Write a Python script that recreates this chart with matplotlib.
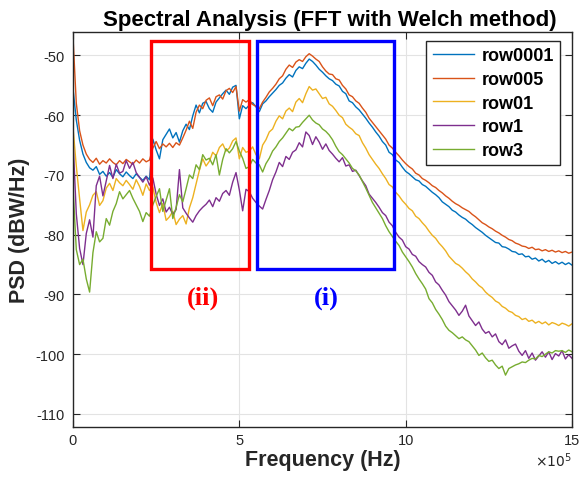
import matplotlib.pyplot as plt
import numpy as np
from matplotlib.patches import Rectangle

# frequency bins, in units of 1e5 Hz (0 .. 15, step 0.1)
freq_1e5 = np.arange(151) / 10.0

row0001 = [
    -55.5, -60.8, -64.2, -66.5, -67.9, -68.8, -69.2, -68.6, -69.9, -69.4,
    -70.2, -69.6, -70.4, -69.1, -69.8, -70.3, -69.5, -70.1, -70.6, -69.8,
    -70.4, -70.9, -70.2, -70.8, -64.0, -65.8, -67.3, -64.1, -63.2, -62.3,
    -63.8, -62.9, -64.5, -62.6, -61.5, -62.4, -60.1, -58.3, -59.6, -58.0,
    -57.7, -58.9, -59.5, -57.8, -57.1, -56.4, -55.8, -56.5, -55.3, -55.0,
    -60.6, -58.4, -58.9, -58.3, -57.9, -58.6, -59.4, -58.1, -57.6, -56.9,
    -56.3, -55.7, -55.0, -54.6, -53.8, -53.2, -53.6, -52.5, -51.9, -52.2,
    -51.3, -50.6, -51.0, -51.6, -52.3, -52.8, -53.4, -53.9, -54.2, -54.8,
    -55.1, -56.0, -56.4, -57.6, -57.9, -58.6, -59.1, -59.8, -60.5, -61.3,
    -62.0, -62.8, -63.5, -64.4, -65.0, -66.2, -66.6, -67.5, -67.9, -68.7,
    -69.4, -69.8, -70.3, -70.8, -71.0, -71.6, -71.9, -72.4, -72.9, -73.3,
    -73.8, -74.5, -74.9, -75.3, -75.9, -76.2, -76.7, -77.1, -77.4, -77.9,
    -78.3, -78.8, -79.2, -79.6, -80.1, -80.5, -80.9, -81.3, -81.4, -82.0,
    -82.1, -82.4, -82.8, -82.9, -83.3, -83.2, -83.7, -83.6, -84.1, -83.9,
    -84.4, -84.1, -84.6, -84.3, -84.8, -84.5, -84.9, -84.6, -85.0, -84.7,
    -85.1,
]

row005 = [
    -46.8, -58.0, -62.6, -65.0, -66.5, -67.4, -67.9, -67.2, -68.2, -67.6,
    -68.0, -67.3, -67.9, -68.3, -67.6, -68.1, -67.4, -67.8, -68.2, -67.5,
    -68.0, -67.3, -67.8, -67.5, -65.5, -64.4, -65.6, -64.8, -65.3, -64.7,
    -65.4, -64.6, -65.0, -63.8, -62.5, -61.0, -62.2, -59.5, -58.3, -58.9,
    -57.5, -57.1, -58.4, -56.9, -56.6, -57.3, -55.9, -55.5, -56.2, -55.2,
    -59.3, -57.4, -57.8, -57.4, -58.2, -58.5, -58.9, -57.8, -57.0, -56.1,
    -55.5, -54.8, -53.9, -53.4, -52.3, -51.6, -52.0, -51.1, -50.7, -51.0,
    -50.2, -49.7, -50.1, -50.6, -51.0, -51.9, -52.6, -53.1, -53.2, -53.9,
    -54.1, -55.0, -55.6, -56.6, -56.9, -57.6, -58.0, -58.8, -59.5, -60.5,
    -61.2, -61.9, -62.6, -63.3, -64.0, -65.0, -65.5, -66.2, -66.8, -67.5,
    -68.1, -68.6, -69.0, -69.7, -70.0, -70.6, -70.9, -71.3, -71.8, -72.1,
    -72.6, -73.0, -73.5, -73.9, -74.4, -74.8, -75.1, -75.5, -75.8, -76.1,
    -76.6, -77.0, -77.5, -78.0, -78.3, -78.7, -79.0, -79.4, -79.7, -80.1,
    -80.4, -80.8, -81.0, -81.4, -81.6, -81.9, -82.0, -82.3, -82.1, -82.5,
    -82.4, -82.7, -82.5, -82.8, -82.6, -82.9, -82.7, -83.0, -82.8, -83.1,
    -82.9,
]

row01 = [
    -62.0, -68.5, -74.0, -79.3, -76.2, -75.0, -73.4, -72.8, -75.1, -74.3,
    -72.2, -71.4, -72.6, -70.6, -71.3, -71.8, -70.9, -71.6, -72.4, -70.8,
    -71.9, -73.4, -71.5, -72.6, -72.0, -74.6, -76.3, -74.8, -77.6, -77.0,
    -76.1, -78.3, -77.4, -76.8, -78.2, -75.5, -73.8, -71.5, -69.2, -67.3,
    -68.5, -67.7, -66.2, -66.8, -65.4, -64.8, -66.0, -65.5, -64.3, -63.8,
    -67.3, -65.4, -66.2, -66.0, -65.3, -66.6, -67.3, -65.0, -64.1, -62.8,
    -62.3, -61.0, -60.1, -60.6, -59.3, -58.8, -59.4, -57.8, -57.2, -57.9,
    -56.4, -55.2, -55.8, -55.6, -56.4, -57.2, -57.0, -58.1, -58.5, -59.2,
    -60.0, -60.4, -61.5, -62.0, -62.4, -63.1, -63.4, -64.6, -65.5, -66.6,
    -67.4, -68.2, -68.9, -69.8, -70.6, -71.6, -72.0, -72.9, -73.5, -74.3,
    -74.9, -75.6, -76.0, -76.9, -77.3, -78.0, -78.6, -79.4, -80.1, -80.6,
    -81.4, -82.0, -82.7, -83.6, -84.2, -84.8, -85.1, -85.6, -86.2, -86.7,
    -87.4, -87.9, -88.5, -88.9, -89.6, -90.1, -90.5, -91.1, -91.4, -92.0,
    -92.3, -92.8, -93.0, -93.5, -93.7, -94.2, -94.0, -94.5, -94.3, -94.8,
    -94.5, -94.9, -94.6, -95.1, -94.7, -94.9, -95.2, -94.8, -95.0, -95.3,
    -94.9,
]

row1 = [
    -63.9, -76.5, -82.3, -85.0, -79.8, -77.5, -80.4, -71.8, -70.2, -73.5,
    -71.0, -68.4, -70.6, -68.2, -69.7, -69.4, -67.6, -68.9, -67.9, -69.6,
    -70.4, -71.2, -70.3, -71.7, -70.5, -73.2, -75.1, -74.0, -76.2, -75.4,
    -76.6, -75.8, -69.1, -75.5, -76.4, -77.2, -77.9, -76.8, -76.0, -75.4,
    -74.9, -74.2, -75.3, -73.8, -74.4, -73.1, -72.6, -73.4, -71.2, -69.6,
    -72.5, -76.0, -72.4, -72.8, -73.9, -74.6, -75.2, -75.7, -74.1, -72.6,
    -70.8, -69.5, -67.9, -68.6, -66.9, -67.4, -66.2, -65.8, -64.6, -65.3,
    -62.8, -63.4, -64.9, -63.6, -64.5, -65.7, -64.8, -65.9, -66.5, -67.2,
    -67.8, -67.1, -68.5, -68.3, -69.4, -69.2, -70.1, -71.0, -71.8, -73.2,
    -73.9, -74.6, -75.4, -76.3, -76.8, -77.9, -78.5, -79.6, -80.4, -80.9,
    -82.0, -82.4, -83.3, -83.6, -84.5, -85.0, -85.4, -86.3, -86.8, -87.9,
    -88.4, -89.3, -90.1, -91.2, -91.9, -92.6, -93.5, -92.8, -91.8, -93.6,
    -94.4, -95.2, -94.6, -95.8, -96.5, -96.2, -97.1, -96.6, -97.9, -98.4,
    -97.6, -99.0, -98.6, -98.3, -99.5, -100.2, -99.4, -100.7, -99.8, -101.0,
    -100.3, -99.6, -100.5, -99.6, -100.9, -99.9, -100.3, -99.4, -100.8, -100.1,
    -100.7,
]

row3 = [
    -71.9, -82.5, -85.0, -84.1, -87.4, -89.6, -83.0, -79.5, -81.2, -80.6,
    -77.3, -78.4, -76.1, -74.8, -72.8, -74.0, -73.3, -72.6, -73.9, -75.0,
    -76.1, -77.8, -76.3, -76.9, -75.0, -73.6, -72.3, -76.1, -74.2, -72.3,
    -77.3, -75.4, -73.3, -74.5, -72.3, -70.0, -70.6, -68.3, -69.1, -66.6,
    -67.5, -67.2, -68.3, -66.6, -70.0, -67.4, -65.6, -66.3, -65.6, -64.4,
    -66.0, -67.2, -68.9, -68.6, -67.4, -68.0, -68.3, -69.5, -68.1, -67.2,
    -66.0, -65.3, -64.4, -63.8, -63.0, -62.2, -62.6, -62.0, -61.9, -61.2,
    -60.6, -60.0, -60.8, -61.3, -61.6, -62.3, -62.7, -63.3, -64.1, -65.2,
    -66.1, -66.6, -67.3, -68.0, -68.9, -69.3, -70.0, -71.1, -72.2, -73.4,
    -74.6, -75.5, -76.4, -77.3, -78.5, -79.5, -80.3, -81.1, -81.8, -82.9,
    -83.7, -84.5, -85.4, -86.5, -87.4, -88.2, -89.1, -90.7, -91.4, -92.5,
    -93.3, -94.2, -95.3, -96.0, -96.4, -96.9, -97.4, -97.1, -97.6, -97.9,
    -98.6, -99.3, -100.2, -99.8, -100.6, -101.2, -101.0, -101.8, -102.4, -102.0,
    -103.5, -102.4, -102.1, -101.8, -101.6, -101.3, -101.4, -101.0, -100.7, -100.8,
    -100.2, -100.4, -100.0, -99.6, -99.8, -99.4, -99.5, -99.4, -99.7, -99.3,
    -99.6,
]

series_names = ["row0001", "row005", "row01", "row1", "row3"]
series_vals = [row0001, row005, row01, row1, row3]
series_colors = ["#0072BD", "#D95319", "#EDB120", "#7E2F8E", "#77AC30"]

# highlighted regions (x in 1e5 Hz, y in dB)
box_ii = (2.36, 5.29, -85.8, -47.6)
box_i = (5.52, 9.65, -85.8, -47.6)

xticks = [0, 5, 10, 15]
yticks = [-110, -100, -90, -80, -70, -60, -50]


def main():
    plt.rcParams["font.family"] = ["Liberation Sans", "DejaVu Sans"]
    fig = plt.figure(figsize=(5.81, 4.81), dpi=100)
    ax = fig.add_axes([0.1256, 0.110, 0.859, 0.821])

    freq = freq_1e5 * 1e5
    for name, vals, col in zip(series_names, series_vals, series_colors):
        ax.plot(freq, vals, color=col, linewidth=1.0, label=name)

    # rectangles
    for (x0, x1, y0, y1), col in [(box_ii, "#FF0000"), (box_i, "#0000FF")]:
        ax.add_patch(Rectangle((x0 * 1e5, y0), (x1 - x0) * 1e5, y1 - y0,
                               fill=False, edgecolor=col, linewidth=2.4, zorder=5))

    ax.text(3.91e5, -90.4, "(ii)", color="#FF0000", fontsize=19, fontweight="bold",
            family="Liberation Serif", ha="center", va="center")
    ax.text(7.6e5, -90.4, "(i)", color="#0000FF", fontsize=19, fontweight="bold",
            family="Liberation Serif", ha="center", va="center")

    ax.set_xlim(0, 15e5)
    ax.set_ylim(-112.2, -46.1)
    ax.set_xticks([t * 1e5 for t in xticks])
    ax.set_xticklabels([str(t) for t in xticks])
    ax.set_yticks(yticks)
    ax.set_yticklabels([str(t) for t in yticks])

    ax.grid(True, color="#e3e3e3", linewidth=0.8)
    ax.set_axisbelow(True)
    ax.tick_params(direction="in", length=5, width=0.8, colors="#262626",
                   labelsize=10.5, top=True, right=True)
    ax.tick_params(axis="x", pad=4)
    ax.tick_params(axis="y", pad=6)
    for sp in ax.spines.values():
        sp.set_color("#262626")
        sp.set_linewidth(1.0)

    ax.set_xlabel("Frequency (Hz)", fontsize=15.5, fontweight="bold",
                  color="#262626", labelpad=2)
    ax.set_ylabel("PSD (dBW/Hz)", fontsize=15.5, fontweight="bold",
                  color="#262626", labelpad=4)
    ax.set_title("Spectral Analysis (FFT with Welch method)", fontsize=16,
                 fontweight="bold", pad=5, x=0.515)
    ax.text(1.0, -0.082, r"$\times10^{5}$", transform=ax.transAxes,
            ha="right", va="center", fontsize=10, color="#262626")

    leg = ax.legend(loc="upper right", bbox_to_anchor=(0.976, 0.978),
                    borderaxespad=0, fancybox=False, framealpha=1,
                    prop={"weight": "bold", "size": 13},
                    handlelength=2.3, handletextpad=0.4, labelspacing=0.37,
                    borderpad=0.35)
    leg.get_frame().set_edgecolor("#262626")
    leg.get_frame().set_linewidth(1.0)

    fig.savefig("out.png", dpi=100)


if __name__ == '__main__':
    main()
